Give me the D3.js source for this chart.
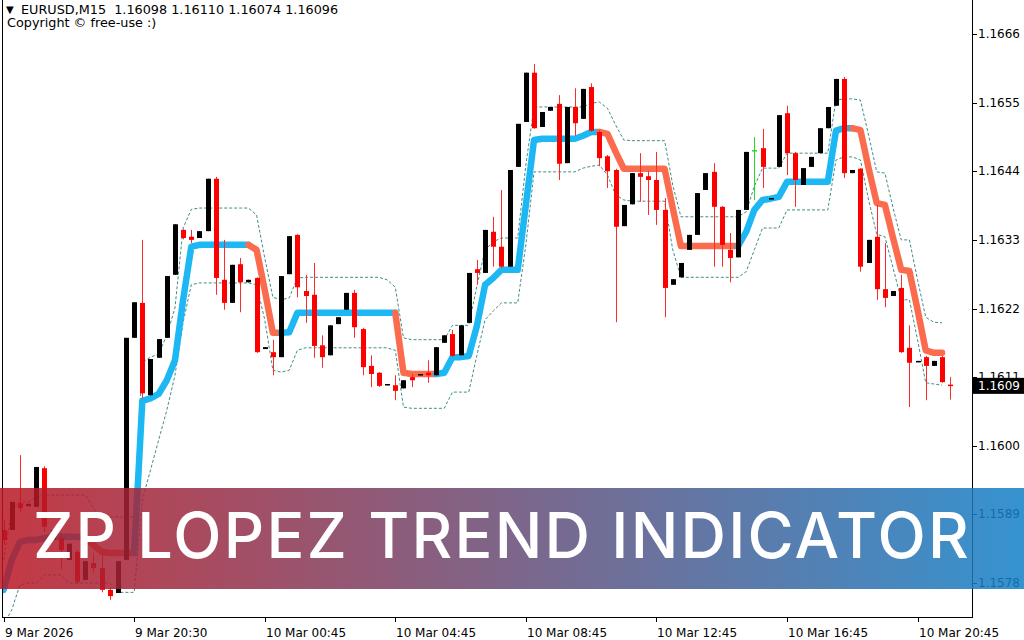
<!DOCTYPE html>
<html><head><meta charset="utf-8">
<script src="https://cdn.jsdelivr.net/npm/d3@7"></script>
<style>html,body{margin:0;padding:0;background:#fff;overflow:hidden}svg{display:block}</style>
</head><body>
<svg id="chart" width="1024" height="640"></svg>
<script>
// ---------------- DATA ----------------
const symbolTitle = "EURUSD,M15";
const headerOHLC = ["1.16098", "1.16110", "1.16074", "1.16096"];
const copyrightText = "Copyright \u00a9 free-use :)";
const bannerTitle = "ZP LOPEZ TREND INDICATOR";

const openP = [1.15865,1.15865,1.15908,1.15903,1.15902,1.15964,1.15849,1.15852,1.15817,1.15830,
1.15785,1.15812,1.15804,1.15769,1.15764,1.15817,1.16173,1.16229,1.16081,1.16141,
1.16173,1.16274,1.16346,1.16335,1.16333,1.16344,1.16428,1.16266,1.16229,1.16291,
1.16262,1.16269,1.16155,1.16150,1.16142,1.16275,1.16338,1.16248,1.16242,1.16161,
1.16145,1.16195,1.16218,1.16245,1.16187,1.16128,1.16117,1.16097,1.16097,1.16092,
1.16110,1.16113,1.16117,1.16113,1.16165,1.16179,1.16145,1.16197,1.16283,1.16277,
1.16343,1.16319,1.16287,1.16447,1.16519,1.16598,1.16511,1.16537,1.16548,1.16453,
1.16543,1.16524,1.16575,1.16503,1.16464,1.16442,1.16352,1.16387,1.16437,1.16432,
1.16426,1.16378,1.16258,1.16270,1.16314,1.16338,1.16410,1.16439,1.16383,1.16314,
1.16302,1.16378,1.16474,1.16477,1.16396,1.16447,1.16533,1.16469,1.16418,1.16447,
1.16469,1.16509,1.16545,1.16588,1.16437,1.16444,1.16293,1.16335,1.16251,1.16240,
1.16253,1.16157,1.16134,1.16142,1.16128,1.16142,1.16098];

const highP = [1.15881,1.15910,1.15985,1.15907,1.15966,1.15967,1.15865,1.15860,1.15843,1.15833,
1.15815,1.15828,1.15833,1.15773,1.15815,1.16173,1.16230,1.16330,1.16139,1.16171,
1.16272,1.16355,1.16347,1.16346,1.16344,1.16428,1.16431,1.16330,1.16290,1.16301,
1.16266,1.16270,1.16158,1.16170,1.16272,1.16336,1.16339,1.16274,1.16293,1.16177,
1.16193,1.16206,1.16245,1.16250,1.16189,1.16145,1.16118,1.16099,1.16113,1.16105,
1.16115,1.16115,1.16137,1.16158,1.16177,1.16186,1.16193,1.16277,1.16298,1.16346,
1.16367,1.16410,1.16442,1.16516,1.16598,1.16612,1.16535,1.16543,1.16562,1.16543,
1.16573,1.16572,1.16581,1.16506,1.16466,1.16444,1.16386,1.16437,1.16469,1.16440,
1.16471,1.16397,1.16267,1.16293,1.16338,1.16405,1.16437,1.16453,1.16384,1.16341,
1.16378,1.16471,1.16495,1.16508,1.16397,1.16530,1.16545,1.16471,1.16445,1.16463,
1.16509,1.16543,1.16588,1.16591,1.16442,1.16445,1.16330,1.16386,1.16325,1.16248,
1.16274,1.16193,1.16136,1.16144,1.16136,1.16144,1.16110];

const lowP = [1.15841,1.15865,1.15894,1.15903,1.15902,1.15862,1.15849,1.15801,1.15817,1.15778,
1.15785,1.15796,1.15765,1.15753,1.15764,1.15817,1.16173,1.16076,1.16081,1.16141,
1.16173,1.16274,1.16331,1.16325,1.16333,1.16344,1.16242,1.16218,1.16229,1.16214,
1.16262,1.16149,1.16155,1.16113,1.16142,1.16275,1.16238,1.16197,1.16141,1.16125,
1.16145,1.16195,1.16218,1.16173,1.16113,1.16094,1.16094,1.16097,1.16073,1.16092,
1.16094,1.16113,1.16101,1.16113,1.16165,1.16142,1.16145,1.16197,1.16258,1.16277,
1.16287,1.16285,1.16287,1.16447,1.16519,1.16508,1.16511,1.16537,1.16426,1.16453,
1.16497,1.16524,1.16503,1.16448,1.16413,1.16198,1.16352,1.16387,1.16391,1.16370,
1.16354,1.16206,1.16258,1.16270,1.16314,1.16338,1.16410,1.16287,1.16287,1.16262,
1.16302,1.16378,1.16394,1.16413,1.16396,1.16447,1.16434,1.16383,1.16418,1.16447,
1.16469,1.16509,1.16545,1.16429,1.16437,1.16279,1.16293,1.16234,1.16222,1.16240,
1.16149,1.16062,1.16134,1.16073,1.16128,1.16101,1.16074];

const closeP = [1.15849,1.15910,1.15900,1.15907,1.15966,1.15870,1.15865,1.15833,1.15843,1.15782,
1.15815,1.15804,1.15769,1.15759,1.15815,1.16173,1.16230,1.16084,1.16139,1.16171,
1.16272,1.16355,1.16333,1.16330,1.16344,1.16428,1.16269,1.16229,1.16290,1.16262,
1.16266,1.16150,1.16158,1.16142,1.16272,1.16336,1.16254,1.16240,1.16160,1.16142,
1.16193,1.16206,1.16245,1.16190,1.16126,1.16115,1.16096,1.16099,1.16088,1.16105,
1.16105,1.16115,1.16113,1.16158,1.16177,1.16144,1.16193,1.16277,1.16277,1.16346,
1.16319,1.16287,1.16442,1.16516,1.16598,1.16509,1.16535,1.16543,1.16452,1.16543,
1.16517,1.16572,1.16505,1.16461,1.16440,1.16351,1.16386,1.16437,1.16431,1.16426,
1.16378,1.16253,1.16267,1.16293,1.16338,1.16405,1.16437,1.16383,1.16322,1.16301,
1.16378,1.16471,1.16474,1.16447,1.16397,1.16530,1.16469,1.16426,1.16445,1.16463,
1.16509,1.16543,1.16588,1.16437,1.16442,1.16287,1.16330,1.16251,1.16237,1.16248,
1.16150,1.16133,1.16136,1.16128,1.16136,1.16102,1.16096];

const trendLine = [1.15769,1.15817,1.15846,1.15849,1.15849,1.15852,1.15854,1.15854,1.15854,1.15854,
1.15852,1.15841,1.15830,1.15828,1.15828,1.15828,1.15828,1.16072,1.16076,1.16083,
1.16105,1.16137,1.16234,1.16319,1.16322,1.16322,1.16322,1.16322,1.16322,1.16322,
1.16322,1.16314,1.16250,1.16181,1.16181,1.16182,1.16213,1.16213,1.16213,1.16213,
1.16213,1.16213,1.16213,1.16213,1.16213,1.16213,1.16213,1.16213,1.16213,1.16117,
1.16115,1.16115,1.16115,1.16115,1.16117,1.16142,1.16142,1.16144,1.16192,1.16258,
1.16269,1.16282,1.16282,1.16282,1.16386,1.16490,1.16492,1.16492,1.16492,1.16492,
1.16492,1.16497,1.16503,1.16503,1.16500,1.16471,1.16444,1.16444,1.16444,1.16444,
1.16444,1.16444,1.16381,1.16320,1.16320,1.16320,1.16320,1.16320,1.16320,1.16320,
1.16320,1.16343,1.16378,1.16394,1.16396,1.16399,1.16423,1.16423,1.16423,1.16423,
1.16423,1.16423,1.16505,1.16509,1.16509,1.16506,1.16445,1.16389,1.16386,1.16333,
1.16282,1.16280,1.16218,1.16153,1.16149,1.16149];

// 1 = rising (blue), -1 = falling (salmon); colours the segment ending at that bar
const trendDir = [1,1,1,1,1,1,1,1,1,1,1,-1,-1,-1,-1,-1,-1,
1,1,1,1,1,1,1,1,1,1,1,1,1,1,-1,-1,-1,-1,
1,1,1,1,1,1,1,1,1,1,1,1,1,1,-1,-1,-1,-1,-1,
1,1,1,1,1,1,1,1,1,1,1,1,1,1,1,1,1,1,1,1,
-1,-1,-1,-1,-1,-1,-1,-1,-1,-1,-1,-1,-1,-1,-1,-1,-1,
1,1,1,1,1,1,1,1,1,1,1,1,1,1,
-1,-1,-1,-1,-1,-1,-1,-1,-1,-1,-1];

const upperBand = [1.15817,1.15897,1.15910,1.15910,1.15918,1.15921,1.15921,1.15921,1.15921,1.15921,
1.15921,1.15900,1.15886,1.15886,1.15886,1.15886,1.15886,1.16134,1.16142,1.16147,
1.16177,1.16221,1.16349,1.16379,1.16381,1.16381,1.16381,1.16381,1.16381,1.16381,
1.16381,1.16370,1.16301,1.16238,1.16234,1.16237,1.16269,1.16270,1.16270,1.16270,
1.16270,1.16270,1.16270,1.16270,1.16270,1.16270,1.16270,1.16266,1.16254,1.16173,
1.16170,1.16170,1.16170,1.16170,1.16170,1.16193,1.16193,1.16193,1.16256,1.16314,
1.16327,1.16333,1.16333,1.16333,1.16450,1.16543,1.16543,1.16543,1.16543,1.16543,
1.16543,1.16543,1.16549,1.16551,1.16541,1.16514,1.16490,1.16489,1.16489,1.16489,
1.16489,1.16489,1.16418,1.16367,1.16367,1.16367,1.16367,1.16367,1.16367,1.16367,
1.16367,1.16375,1.16416,1.16445,1.16445,1.16445,1.16469,1.16469,1.16469,1.16469,
1.16469,1.16469,1.16554,1.16556,1.16556,1.16554,1.16498,1.16439,1.16437,1.16381,
1.16330,1.16330,1.16266,1.16206,1.16198,1.16197];

const lowerBand = [1.15713,1.15737,1.15777,1.15780,1.15780,1.15793,1.15793,1.15793,1.15780,1.15780,
1.15780,1.15780,1.15780,1.15780,1.15765,1.15765,1.15765,1.15913,1.15961,1.16009,
1.16057,1.16113,1.16198,1.16258,1.16261,1.16261,1.16261,1.16261,1.16261,1.16261,
1.16261,1.16258,1.16202,1.16121,1.16118,1.16121,1.16153,1.16157,1.16157,1.16157,
1.16157,1.16157,1.16157,1.16157,1.16157,1.16157,1.16157,1.16157,1.16153,1.16062,
1.16060,1.16060,1.16060,1.16060,1.16060,1.16086,1.16086,1.16086,1.16145,1.16202,
1.16216,1.16229,1.16229,1.16229,1.16322,1.16439,1.16439,1.16439,1.16439,1.16439,
1.16439,1.16445,1.16448,1.16450,1.16434,1.16402,1.16394,1.16392,1.16392,1.16392,
1.16392,1.16392,1.16314,1.16270,1.16270,1.16270,1.16270,1.16270,1.16270,1.16270,
1.16270,1.16279,1.16314,1.16349,1.16349,1.16349,1.16378,1.16378,1.16378,1.16378,
1.16378,1.16378,1.16458,1.16463,1.16463,1.16458,1.16394,1.16339,1.16335,1.16285,
1.16234,1.16234,1.16170,1.16101,1.16099,1.16097];

const priceTicks = [1.1578,1.1589,1.1600,1.1611,1.1622,1.1633,1.1644,1.1655,1.1666];
const timeTickBars = [0,16,32,48,64,80,96,112];
const timeTickLabels = ["9 Mar 2026","9 Mar 20:30","10 Mar 00:45","10 Mar 04:45","10 Mar 08:45","10 Mar 12:45","10 Mar 16:45","10 Mar 20:45"];

// ---------------- DRAW ----------------
const svg = d3.select("#chart");
const plotLeft = 2, plotRight = 972, plotBottom = 617;
const x = d3.scaleLinear().domain([0, 116]).range([3.6, 950.2]);
const y = d3.scaleLinear().domain([1.1578, 1.1666]).range([583, 34]);
const bars = d3.range(openP.length);

svg.append("defs").append("clipPath").attr("id","plotClip")
  .append("rect").attr("x",plotLeft).attr("y",0).attr("width",plotRight-plotLeft).attr("height",plotBottom);

const plot = svg.append("g").attr("clip-path","url(#plotClip)");

// bands
const bandLine = d3.line().x((d,i)=>x(i)).y(d=>y(d));
[upperBand, lowerBand].forEach(b=>{
  plot.append("path").attr("d", bandLine(b)).attr("fill","none")
    .attr("stroke","#3f8d86").attr("stroke-width",1).attr("stroke-dasharray","3,2");
});

// trend line coloured runs
const upCol = "#1db7f3", dnCol = "#fb6b4d";
const tline = d3.line().x(i=>x(i)).y(i=>y(trendLine[i])).curve(d3.curveLinear);
let runs = [];
for (let i = 1; i < trendLine.length; i++) {
  const c = trendDir[i];
  if (runs.length && runs[runs.length-1].c === c) runs[runs.length-1].idx.push(i);
  else runs.push({c, idx:[i-1, i]});
}
runs.forEach(r=>{
  plot.append("path").attr("d", tline(r.idx)).attr("fill","none")
    .attr("stroke", r.c > 0 ? upCol : dnCol).attr("stroke-width",6.5)
    .attr("stroke-linejoin","round").attr("stroke-linecap","round");
});

// candles
const cg = plot.append("g");
bars.forEach(i=>{
  const o = openP[i], c = closeP[i], h = highP[i], l = lowP[i];
  const cx = Math.round(x(i));
  const col = c > o ? "#000000" : (c < o ? "#ff0000" : "#22dd22");
  const wickCol = c < o ? "#ff2a2a" : col;
  if (y(l) - y(h) > 0.5) {
    cg.append("line").attr("x1",cx+0.5).attr("x2",cx+0.5).attr("y1",y(h)).attr("y2",y(l))
      .attr("stroke",wickCol).attr("stroke-width",1);
  }
  const top = y(Math.max(o,c)), bot = y(Math.min(o,c));
  cg.append("rect").attr("x",cx-2).attr("width",5)
    .attr("y", top).attr("height", Math.max(1.5, bot-top)).attr("fill",col);
});

// frame & axes
svg.append("line").attr("x1",plotLeft+0.5).attr("x2",plotLeft+0.5).attr("y1",0).attr("y2",plotBottom).attr("stroke","#000");
svg.append("line").attr("x1",plotLeft).attr("x2",plotRight+1).attr("y1",plotBottom+0.5).attr("y2",plotBottom+0.5).attr("stroke","#000");
svg.append("line").attr("x1",plotRight+0.5).attr("x2",plotRight+0.5).attr("y1",0).attr("y2",plotBottom).attr("stroke","#000");

const yAxisG = svg.append("g");
priceTicks.forEach(p=>{
  const yy = Math.round(y(p));
  yAxisG.append("line").attr("x1",plotRight).attr("x2",plotRight+5).attr("y1",yy+0.5).attr("y2",yy+0.5).attr("stroke","#000");
  yAxisG.append("text").attr("x",978).attr("y",yy).attr("dy","0.36em")
    .attr("font-family","DejaVu Sans, sans-serif").attr("font-size",12).attr("fill","#000")
    .text(d3.format(".4f")(p));
});

const xAxisG = svg.append("g");
timeTickBars.forEach((b,k)=>{
  const xx = Math.round(x(b));
  xAxisG.append("line").attr("x1",xx+0.5).attr("x2",xx+0.5).attr("y1",plotBottom).attr("y2",plotBottom+5).attr("stroke","#000");
  xAxisG.append("text").attr("x",xx+1).attr("y",637)
    .attr("font-family","DejaVu Sans, sans-serif").attr("font-size",12).attr("fill","#000")
    .text(timeTickLabels[k]);
});

// last price box
const lastClose = closeP[closeP.length-1];
const ly = y(lastClose);
svg.append("rect").attr("x",plotRight+1).attr("y",ly-8).attr("width",1024-plotRight).attr("height",16).attr("fill","#000");
svg.append("text").attr("x",978).attr("y",ly).attr("dy","0.36em")
  .attr("font-family","DejaVu Sans, sans-serif").attr("font-size",12).attr("fill","#fff")
  .text(d3.format(".4f")(Math.floor(lastClose*10000)/10000));

// header
svg.append("text").attr("x",6).attr("y",13).attr("font-family","DejaVu Sans, sans-serif").attr("font-size",10).text("\u25BC");
svg.append("text").attr("x",21).attr("y",14).attr("font-family","DejaVu Sans, sans-serif").attr("font-size",12.8).attr("fill","#000")
  .attr("xml:space","preserve").text(symbolTitle + "  " + headerOHLC.join(" "));
svg.append("text").attr("x",7).attr("y",27).attr("font-family","DejaVu Sans, sans-serif").attr("font-size",12.8).attr("fill","#000")
  .text(copyrightText);

// banner
const grad = svg.select("defs").append("linearGradient").attr("id","bannerGrad").attr("x1","0").attr("x2","1").attr("y1","0").attr("y2","0");
grad.append("stop").attr("offset","0").attr("stop-color","#ba1623");
grad.append("stop").attr("offset","1").attr("stop-color","#1280c8");
svg.append("rect").attr("x",0).attr("y",488).attr("width",1024).attr("height",101)
  .attr("fill","url(#bannerGrad)").attr("opacity",0.85);
const bt = svg.append("text").attr("x",33).attr("y",558)
  .attr("font-family","Inter, 'Open Sans', sans-serif").attr("font-weight",500).attr("font-size",63)
  .attr("fill","#fff").text(bannerTitle);
const w = bt.node().getComputedTextLength();
const n = bannerTitle.length;
bt.attr("letter-spacing", ((938 - w) / n).toFixed(2));
</script>
</body></html>
